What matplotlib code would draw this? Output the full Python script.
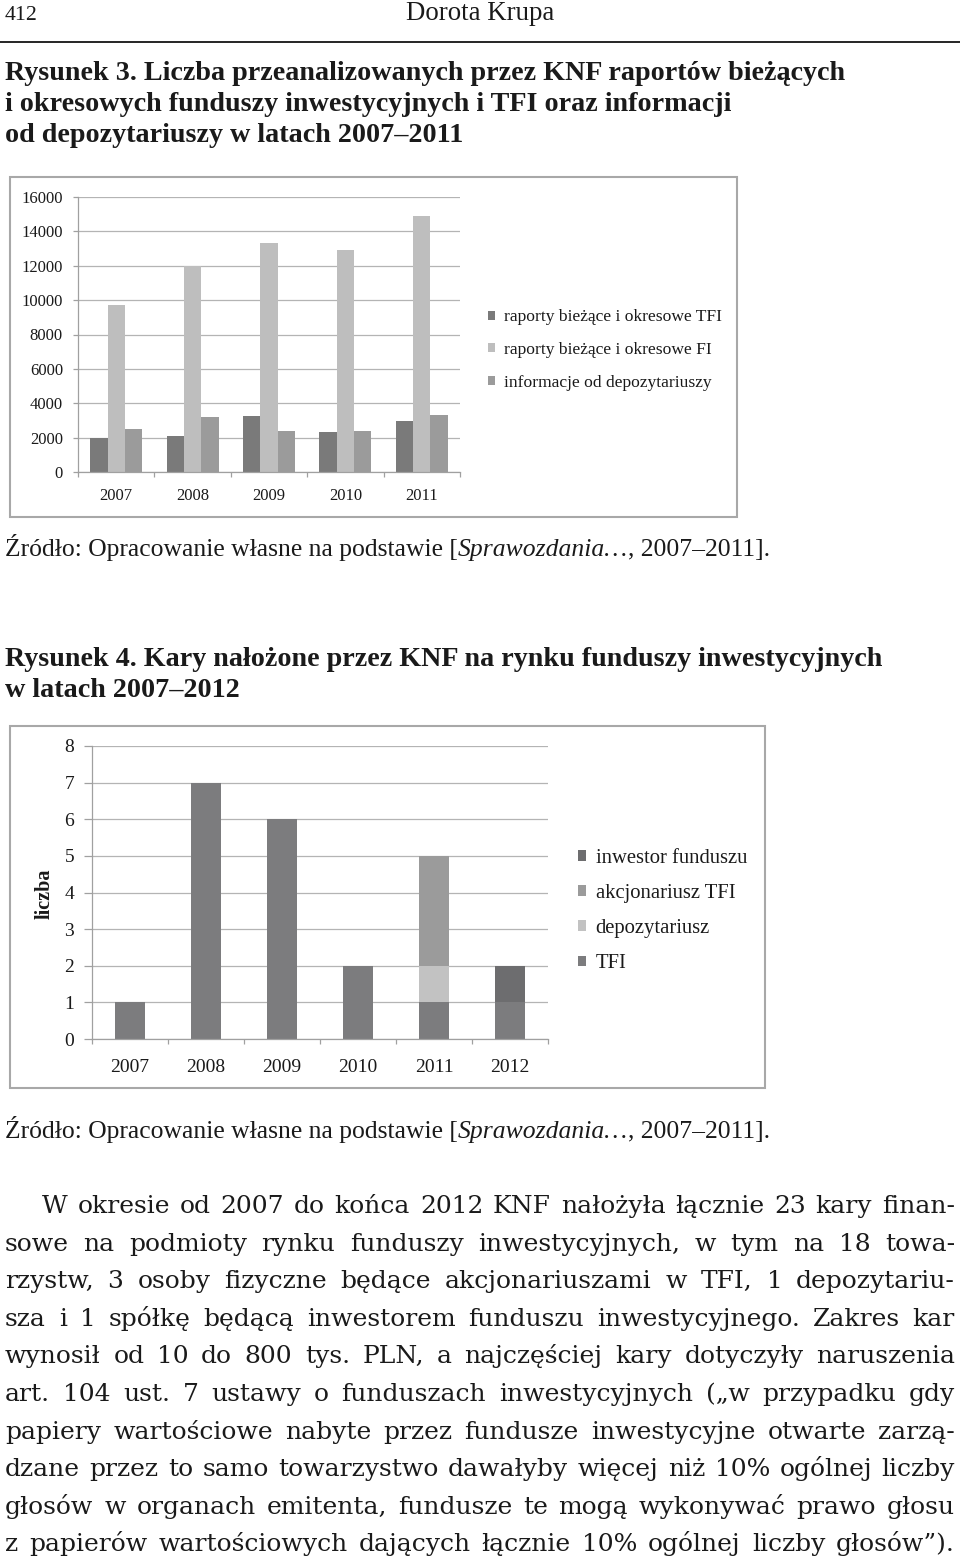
import matplotlib
matplotlib.use("Agg")
import matplotlib.pyplot as plt
from matplotlib.patches import Rectangle
import numpy as np

# --- dane: rysunek 3 ---
lata1 = ["2007", "2008", "2009", "2010", "2011"]
raporty_tfi = [2000, 2100, 3250, 2350, 2950]
raporty_fi = [9700, 12000, 13350, 12900, 14900]
depozytariusze = [2500, 3200, 2400, 2400, 3300]
serie1 = ["raporty bieżące i okresowe TFI",
          "raporty bieżące i okresowe FI",
          "informacje od depozytariuszy"]
yticks1 = list(range(0, 16001, 2000))

# --- dane: rysunek 4 (segmenty od dołu) ---
lata2 = ["2007", "2008", "2009", "2010", "2011", "2012"]
kary_tfi = [1, 7, 6, 2, 1, 1]
kary_depozytariusz = [0, 0, 0, 0, 1, 0]
kary_akcjonariusz = [0, 0, 0, 0, 3, 0]
kary_inwestor = [0, 0, 0, 0, 0, 1]
serie2 = ["TFI", "depozytariusz", "akcjonariusz TFI", "inwestor funduszu"]
yticks2 = list(range(0, 9))

naglowek = ["Rysunek 3. Liczba przeanalizowanych przez KNF raportów bieżących",
            "i okresowych funduszy inwestycyjnych i TFI oraz informacji",
            "od depozytariuszy w latach 2007–2011"]
naglowek2 = ["Rysunek 4. Kary nałożone przez KNF na rynku funduszy inwestycyjnych",
             "w latach 2007–2012"]
zrodlo = ["Źródło: Opracowanie własne na podstawie [", "Sprawozdania…", ", 2007–2011]."]
tekst = [
    "W okresie od 2007 do końca 2012 KNF nałożyła łącznie 23 kary finan-",
    "sowe na podmioty rynku funduszy inwestycyjnych, w tym na 18 towa-",
    "rzystw, 3 osoby fizyczne będące akcjonariuszami w TFI, 1 depozytariu-",
    "sza i 1 spółkę będącą inwestorem funduszu inwestycyjnego. Zakres kar",
    "wynosił od 10 do 800 tys. PLN, a najczęściej kary dotyczyły naruszenia",
    "art. 104 ust. 7 ustawy o funduszach inwestycyjnych („w przypadku gdy",
    "papiery wartościowe nabyte przez fundusze inwestycyjne otwarte zarzą-",
    "dzane przez to samo towarzystwo dawałyby więcej niż 10% ogólnej liczby",
    "głosów w organach emitenta, fundusze te mogą wykonywać prawo głosu",
    "z papierów wartościowych dających łącznie 10% ogólnej liczby głosów”).",
]

W, H = 960, 1561
SERIF = "Liberation Serif"
BODY = "DejaVu Serif"
INK = "#1a1a1a"

fig = plt.figure(figsize=(9.6, 15.61), dpi=100)
bg = fig.add_axes([0, 0, 1, 1])
bg.set_xlim(0, W)
bg.set_ylim(H, 0)
bg.axis("off")
renderer = fig.canvas.get_renderer()


def px_axes(l, t, r, b):
    return fig.add_axes([l / W, 1 - b / H, (r - l) / W, (b - t) / H])


def width_of(t):
    return t.get_window_extent(renderer).width


def fit(x, y, s, w, **kw):
    t = bg.text(x, y, s, fontsize=10, va="baseline", color=INK, **kw)
    t.set_fontsize(10 * w / width_of(t))
    return t


def pieces(x, y, parts, styles, w, family):
    ts = [bg.text(0, y, p, fontsize=10, family=family, style=st, va="baseline", color=INK)
          for p, st in zip(parts, styles)]
    size = 10 * w / sum(width_of(t) for t in ts)
    for t in ts:
        t.set_fontsize(size)
        t.set_x(x)
        x += width_of(t)


def justify(line, x0, x1, y, size):
    words = line.split()
    ts = [bg.text(0, y, s, fontsize=size, family=BODY, va="baseline", color=INK) for s in words]
    ws = [width_of(t) for t in ts]
    gap = (x1 - x0 - sum(ws)) / (len(ws) - 1)
    x = x0
    for t, w in zip(ts, ws):
        t.set_x(x)
        x += w + gap


# --- naglowek strony ---
fit(5, 20, "412", 33, family=SERIF)
fit(480, 20, "Dorota Krupa", 148, family=SERIF, ha="center")
bg.plot([0, W], [42, 42], color="black", lw=1.2)

# podpis rys. 3
t0 = fit(5, 80, naglowek[0], 845, family=SERIF, weight="bold")
cap = t0.get_fontsize()
for i, s in enumerate(naglowek[1:], 1):
    bg.text(5, 80 + 31 * i, s, fontsize=cap, family=SERIF, weight="bold",
            va="baseline", color=INK)

pieces(5, 556, zrodlo, ["normal", "italic", "normal"], 765, SERIF)

for i, s in enumerate(naglowek2):
    bg.text(5, 666 + 31 * i, s, fontsize=cap, family=SERIF, weight="bold",
            va="baseline", color=INK)

pieces(5, 1138, zrodlo, ["normal", "italic", "normal"], 765, SERIF)

# --- ramki wykresow ---
for (l, t, r, b) in [(10, 177, 737, 517), (10, 726, 765, 1088)]:
    bg.add_patch(Rectangle((l, t), r - l, b - t, fill=False, ec="#a8a8a8", lw=1.5))

GRID = "#b4b4b4"
AXC = "#a0a0a0"


def style_axes(ax, fs, ypad, xpad, ytick_len):
    ax.set_facecolor("none")
    ax.set_axisbelow(True)
    ax.yaxis.grid(True, color=GRID, lw=0.9)
    for sp in ["top", "right"]:
        ax.spines[sp].set_visible(False)
    for sp in ["left", "bottom"]:
        ax.spines[sp].set_color(AXC)
        ax.spines[sp].set_linewidth(0.9)
    ax.tick_params(axis="y", length=ytick_len * 0.72, color=AXC, width=0.9, pad=ypad,
                   labelsize=fs, labelcolor=INK)
    ax.tick_params(axis="x", which="major", length=0, pad=xpad, labelsize=fs, labelcolor=INK)
    ax.tick_params(axis="x", which="minor", length=5 * 0.72, color=AXC, width=0.9)
    for lab in ax.get_xticklabels() + ax.get_yticklabels():
        lab.set_family(SERIF)


# --- rysunek 3 ---
ax1 = px_axes(78, 197, 460, 472)
x1 = np.arange(len(lata1))
bw = 0.227
ax1.bar(x1 - bw, raporty_tfi, bw, color="#7a7a7a", label=serie1[0])
ax1.bar(x1, raporty_fi, bw, color="#bebebe", label=serie1[1])
ax1.bar(x1 + bw, depozytariusze, bw, color="#9b9b9b", label=serie1[2])
ax1.set_xlim(-0.5, len(lata1) - 0.5)
ax1.set_ylim(0, 16000)
ax1.set_yticks(yticks1)
ax1.set_xticks(x1)
ax1.set_xticklabels(lata1)
ax1.set_xticks(np.arange(-0.5, len(lata1), 1), minor=True)
style_axes(ax1, 12, 7.2, 11.5, 5)
ax1.legend(loc="center left", bbox_to_anchor=(488, 350), bbox_transform=bg.transData,
           frameon=False, borderpad=0, borderaxespad=0, handlelength=0.42,
           handleheight=0.42, handletextpad=0.48, labelspacing=0.95,
           prop={"family": SERIF, "size": 12.6}, labelcolor=INK)

# --- rysunek 4 ---
ax2 = px_axes(92, 746, 548, 1039)
x2 = np.arange(len(lata2))
bw2 = 0.4
dol = np.zeros(len(lata2))
kolory2 = ["#7c7c7e", "#c2c2c2", "#9b9b9b", "#6d6d6f"]
for vals, lab, c in zip([kary_tfi, kary_depozytariusz, kary_akcjonariusz, kary_inwestor],
                        serie2, kolory2):
    ax2.bar(x2, vals, bw2, bottom=dol, color=c, label=lab)
    dol += np.array(vals)
ax2.set_xlim(-0.5, len(lata2) - 0.5)
ax2.set_ylim(0, 8)
ax2.set_yticks(yticks2)
ax2.set_xticks(x2)
ax2.set_xticklabels(lata2)
ax2.set_xticks(np.arange(-0.5, len(lata2), 1), minor=True)
style_axes(ax2, 14, 7.2, 14.5, 8)
h, l = ax2.get_legend_handles_labels()
ax2.legend(h[::-1], l[::-1], loc="center left", bbox_to_anchor=(578, 911),
           bbox_transform=bg.transData, frameon=False, borderpad=0, borderaxespad=0,
           handlelength=0.4, handleheight=0.4, handletextpad=0.45, labelspacing=0.78,
           prop={"family": SERIF, "size": 14.9}, labelcolor=INK)
bg.text(45, 894, "liczba", rotation=90, ha="center", va="center", fontsize=14.5,
        family=SERIF, weight="bold", color=INK)

# --- tekst glowny (justowany) ---
body_size = 18
for i, s in enumerate(tekst):
    x0 = 42 if i == 0 else 5
    justify(s, x0, 955, 1213 + 37.6 * i, body_size)

fig.savefig("out.png", dpi=100)
